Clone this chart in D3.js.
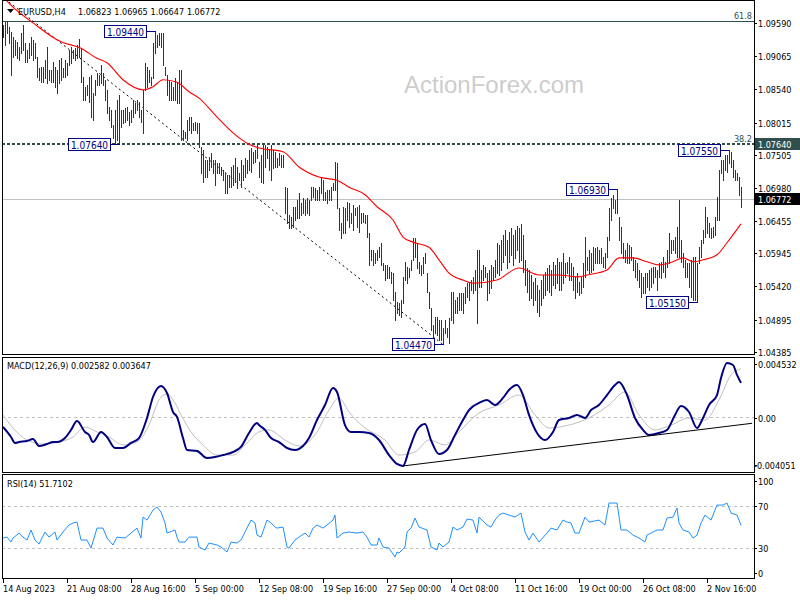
<!DOCTYPE html>
<html><head><meta charset="utf-8">
<script src="https://cdn.jsdelivr.net/npm/d3@7"></script>
<style>
body{margin:0;background:#fff}
svg{display:block}
text{font-family:'DejaVu Sans Condensed','DejaVu Sans',sans-serif;font-size:9px}
</style>
</head><body>
<svg id="c" width="800" height="600"></svg>
<script>
// ---------- DATA ----------
const symbol = "EURUSD,H4";
const ohlcHeader = ["1.06823","1.06965","1.06647","1.06772"];
const hi = [
1.0953,1.0957,1.0959,1.0950,1.0942,1.0934,1.0929,1.0926,1.0918,1.0940,
1.0953,1.0924,1.0913,1.0924,1.0934,1.0929,1.0924,1.0902,1.0885,1.0886,
1.0886,1.0897,1.0918,1.0881,1.0881,1.0894,1.0886,1.0881,1.0897,1.0900,
1.0885,1.0897,1.0893,1.0913,1.0918,1.0913,1.0916,1.0921,1.0931,1.0916,
1.0870,1.0855,1.0858,1.0870,1.0874,1.0845,1.0866,1.0877,1.0874,1.0889,
1.0877,1.0866,1.0850,1.0823,1.0818,1.0794,1.0818,1.0834,1.0842,1.0818,
1.0818,1.0821,1.0823,1.0815,1.0818,1.0834,1.0829,1.0834,1.0831,1.0818,
1.0850,1.0893,1.0886,1.0881,1.0870,1.0924,1.0944,1.0937,1.0940,1.0940,
1.0940,1.0886,1.0874,1.0866,1.0862,1.0855,1.0869,1.0861,1.0881,1.0881,
1.0786,1.0783,1.0802,1.0807,1.0807,1.0798,1.0799,1.0798,1.0798,1.0760,
1.0755,1.0739,1.0739,1.0744,1.0750,1.0739,1.0739,1.0734,1.0734,1.0728,
1.0723,1.0718,1.0715,1.0715,1.0728,1.0731,1.0742,1.0728,1.0718,1.0739,
1.0731,1.0742,1.0739,1.0755,1.0758,1.0752,1.0755,1.0765,1.0736,1.0747,
1.0762,1.0762,1.0760,1.0755,1.0762,1.0755,1.0752,1.0742,1.0750,1.0747,
1.0747,1.0696,1.0695,1.0652,1.0649,1.0665,1.0665,1.0676,1.0687,1.0671,
1.0679,1.0676,1.0679,1.0676,1.0696,1.0696,1.0695,1.0692,1.0696,1.0712,
1.0707,1.0688,1.0692,1.0692,1.0696,1.0703,1.0736,1.0734,1.0663,1.0639,
1.0665,1.0663,1.0673,1.0671,1.0655,1.0668,1.0663,1.0665,1.0668,1.0655,
1.0655,1.0652,1.0652,1.0623,1.0597,1.0597,1.0592,1.0597,1.0601,1.0608,
1.0576,1.0573,1.0573,1.0570,1.0562,1.0560,1.0530,1.0514,1.0513,1.0517,
1.0554,1.0578,1.0570,1.0568,1.0581,1.0616,1.0616,1.0608,1.0578,1.0573,
1.0586,1.0592,1.0560,1.0530,1.0505,1.0478,1.0490,1.0490,1.0486,1.0486,
1.0473,1.0486,1.0473,1.0489,1.0530,1.0530,1.0517,1.0522,1.0528,1.0528,
1.0528,1.0538,1.0544,1.0544,1.0549,1.0554,1.0565,1.0597,1.0597,1.0565,
1.0573,1.0570,1.0560,1.0565,1.0573,1.0570,1.0581,1.0608,1.0604,1.0612,
1.0620,1.0628,1.0612,1.0625,1.0631,1.0620,1.0628,1.0635,1.0631,1.0638,
1.0620,1.0581,1.0568,1.0565,1.0557,1.0546,1.0552,1.0541,1.0533,1.0549,
1.0557,1.0562,1.0568,1.0573,1.0565,1.0578,1.0573,1.0584,1.0578,1.0578,
1.0592,1.0576,1.0578,1.0586,1.0576,1.0570,1.0554,1.0560,1.0546,1.0554,
1.0576,1.0617,1.0586,1.0597,1.0592,1.0601,1.0600,1.0601,1.0597,1.0600,
1.0586,1.0592,1.0617,1.0663,1.0679,1.0684,1.0676,1.0693,1.0649,1.0633,
1.0608,1.0597,1.0608,1.0604,1.0601,1.0586,1.0581,1.0576,1.0565,1.0560,
1.0554,1.0560,1.0560,1.0565,1.0568,1.0570,1.0570,1.0565,1.0576,1.0578,
1.0586,1.0578,1.0597,1.0623,1.0612,1.0612,1.0617,1.0633,1.0676,1.0612,
1.0592,1.0581,1.0576,1.0576,1.0581,1.0586,1.0586,1.0576,1.0601,1.0612,
1.0628,1.0665,1.0649,1.0639,1.0631,1.0633,1.0649,1.0681,1.0723,1.0739,
1.0739,1.0747,1.0747,1.0755,1.0752,1.0739,1.0723,1.0718,1.0712,1.06965
];
const lo = [
1.0934,1.0921,1.0940,1.0924,1.0874,1.0902,1.0905,1.0900,1.0897,1.0908,
1.0913,1.0894,1.0894,1.0900,1.0905,1.0897,1.0900,1.0870,1.0866,1.0862,
1.0862,1.0869,1.0861,1.0866,1.0862,1.0862,1.0855,1.0845,1.0861,1.0866,
1.0870,1.0870,1.0874,1.0889,1.0893,1.0900,1.0897,1.0900,1.0902,1.0862,
1.0834,1.0834,1.0842,1.0831,1.0807,1.0802,1.0842,1.0858,1.0858,1.0861,
1.0858,1.0834,1.0813,1.0802,1.0791,1.0774,1.0765,1.0770,1.0764,1.0791,
1.0798,1.0799,1.0802,1.0794,1.0799,1.0807,1.0813,1.0818,1.0807,1.0799,
1.0782,1.0850,1.0855,1.0862,1.0858,1.0869,1.0908,1.0918,1.0921,1.0918,
1.0889,1.0874,1.0842,1.0834,1.0834,1.0834,1.0834,1.0829,1.0829,1.0770,
1.0770,1.0774,1.0770,1.0786,1.0782,1.0786,1.0786,1.0782,1.0760,1.0718,
1.0704,1.0712,1.0712,1.0723,1.0728,1.0718,1.0699,1.0718,1.0718,1.0715,
1.0707,1.0687,1.0687,1.0696,1.0696,1.0699,1.0704,1.0695,1.0707,1.0696,
1.0707,1.0712,1.0718,1.0723,1.0720,1.0734,1.0736,1.0742,1.0712,1.0704,
1.0703,1.0728,1.0742,1.0723,1.0707,1.0726,1.0728,1.0728,1.0731,1.0728,
1.0728,1.0655,1.0639,1.0631,1.0631,1.0633,1.0644,1.0647,1.0647,1.0652,
1.0655,1.0652,1.0655,1.0652,1.0676,1.0681,1.0676,1.0676,1.0676,1.0687,
1.0676,1.0676,1.0671,1.0676,1.0676,1.0692,1.0692,1.0663,1.0628,1.0616,
1.0623,1.0623,1.0644,1.0633,1.0639,1.0628,1.0652,1.0633,1.0625,1.0639,
1.0641,1.0639,1.0617,1.0573,1.0581,1.0573,1.0576,1.0581,1.0586,1.0573,
1.0565,1.0549,1.0552,1.0552,1.0544,1.0517,1.0486,1.0497,1.0494,1.0490,
1.0513,1.0549,1.0544,1.0554,1.0565,1.0581,1.0586,1.0568,1.0560,1.0557,
1.0560,1.0576,1.0530,1.0505,1.0470,1.0459,1.0465,1.0462,1.0454,1.0454,
1.0447,1.0465,1.0459,1.0450,1.0486,1.0481,1.0497,1.0497,1.0501,1.0501,
1.0497,1.0513,1.0522,1.0517,1.0533,1.0528,1.0533,1.0481,1.0538,1.0538,
1.0549,1.0554,1.0517,1.0528,1.0536,1.0549,1.0554,1.0560,1.0557,1.0565,
1.0578,1.0589,1.0568,1.0578,1.0589,1.0573,1.0584,1.0597,1.0578,1.0581,
1.0562,1.0541,1.0530,1.0517,1.0521,1.0509,1.0517,1.0498,1.0492,1.0509,
1.0521,1.0525,1.0533,1.0530,1.0525,1.0541,1.0536,1.0544,1.0533,1.0533,
1.0544,1.0554,1.0560,1.0549,1.0549,1.0533,1.0521,1.0530,1.0525,1.0528,
1.0538,1.0554,1.0565,1.0560,1.0562,1.0565,1.0576,1.0576,1.0576,1.0576,
1.0570,1.0568,1.0586,1.0612,1.0644,1.0663,1.0655,1.0655,1.0612,1.0592,
1.0584,1.0578,1.0576,1.0576,1.0581,1.0565,1.0554,1.0549,1.0538,1.0522,
1.0528,1.0528,1.0538,1.0533,1.0538,1.0544,1.0554,1.0533,1.0554,1.0552,
1.0562,1.0554,1.0570,1.0576,1.0592,1.0597,1.0592,1.0586,1.0586,1.0578,
1.0570,1.0554,1.0554,1.0538,1.0522,1.0517,1.0517,1.0515,1.0576,1.0586,
1.0608,1.0617,1.0623,1.0617,1.0616,1.0617,1.0620,1.0644,1.0644,1.0718,
1.0707,1.0723,1.0720,1.0734,1.0728,1.0712,1.0707,1.0707,1.0684,1.06647
];
// moving average (red), sampled along the line
const maIdx = [0,5,15,29,39,47,52,60,70,75,80,87,93,98,107,115,123,128,140,148,158,167,173,181,187,195,200,205,213,218,223,230,235,247,258,268,278,288,292,302,308,315,322,328,335,340,345,350,357,362,369];
const maVal = [1.0997,1.0981,1.0956,1.0926,1.0916,1.0900,1.0893,1.0866,1.0850,1.0855,1.0866,1.0862,1.0847,1.0837,1.0807,1.0782,1.0764,1.0758,1.0752,1.0728,1.0712,1.0707,1.0696,1.0684,1.0665,1.0644,1.0617,1.0609,1.0601,1.0581,1.0560,1.0549,1.0544,1.0549,1.0568,1.0557,1.0557,1.0554,1.0557,1.0565,1.0584,1.0584,1.0578,1.0573,1.0578,1.0584,1.0578,1.0581,1.0589,1.0608,1.0638];
// MACD main line & signal
const macdIdx = [0,4,6,8,12,15,18,22,25,27,31,34,37,41,43,45,49,52,56,60,64,68,72,75,79,82,85,87,90,92,97,102,106,110,115,119,123,127,128,131,134,138,142,146,150,153,157,161,165,167,171,174,178,183,188,193,197,200,203,207,211,214,218,222,226,230,233,238,242,246,250,253,257,260,263,267,271,275,278,283,287,291,294,298,302,306,308,312,316,320,323,328,332,336,339,343,347,350,353,357,359,362,365,367,369];
const macdVal = [-0.00074,-0.00149,-0.00194,-0.00187,-0.00179,-0.00164,-0.00217,-0.00202,-0.00187,-0.00187,-0.00157,-0.00096,-0.00029,-0.00111,-0.00134,-0.00187,-0.00111,-0.00149,-0.00232,-0.00232,-0.00194,-0.00157,-0.00006,0.00152,0.00235,0.00182,0.00039,0.00002,-0.00157,-0.00247,-0.00254,-0.00307,-0.00300,-0.00285,-0.00262,-0.00224,-0.00119,-0.00044,-0.00059,-0.00096,-0.00157,-0.00187,-0.00232,-0.00247,-0.00217,-0.00157,-0.00021,0.00092,0.0022,0.0019,-0.00059,-0.00111,-0.00111,-0.00119,-0.00172,-0.00285,-0.00352,-0.00367,-0.00247,-0.00096,-0.00051,-0.00172,-0.00277,-0.00247,-0.00134,-0.00021,0.00054,0.00107,0.0013,0.00092,0.00145,0.00205,0.00242,0.00167,0.00017,-0.00119,-0.00172,-0.00111,-0.00021,-0.00006,0.00017,-0.00006,0.00054,0.00092,0.00167,0.00242,0.00265,0.00167,-0.00006,-0.00096,-0.00134,-0.00119,-0.00096,0.00017,0.00084,0.00039,-0.00081,-0.00006,0.00092,0.00167,0.00295,0.00408,0.00393,0.00318,0.002582];
const sigIdx = [0,5,12,20,28,35,41,47,53,60,67,73,78,82,86,89,94,100,107,115,122,128,133,141,148,156,163,168,173,181,191,198,206,213,221,228,238,248,258,266,273,283,293,303,311,318,326,334,343,351,358,364,369];
const sigVal = [0.00017,-0.00081,-0.00172,-0.00202,-0.00187,-0.00149,-0.00074,-0.00111,-0.00149,-0.00209,-0.00187,-0.00059,0.0013,0.00175,0.00107,0.00017,-0.00111,-0.00209,-0.00285,-0.00285,-0.00194,-0.00111,-0.00096,-0.00172,-0.00217,-0.00134,0.00054,0.00145,0.00039,-0.00081,-0.00172,-0.00285,-0.00262,-0.00172,-0.00209,-0.00111,0.00032,0.00092,0.00167,0.00017,-0.00081,-0.00059,-0.00006,0.00092,0.0019,0.00017,-0.00096,-0.00059,-0.00006,-0.00021,0.0013,0.00318,0.003647];
// RSI(14)
const rsiIdx = [0,2,4,5,8,10,12,14,16,18,21,23,26,27,30,33,35,37,39,42,44,47,50,52,55,57,61,64,67,69,70,72,75,77,79,81,82,86,87,88,91,93,97,98,101,103,107,109,112,114,117,119,122,124,126,127,129,132,134,136,137,140,142,143,146,148,151,153,155,157,160,162,165,166,167,170,173,177,180,182,184,187,188,190,193,196,197,198,201,202,204,206,208,212,214,217,218,220,223,225,227,230,232,235,237,238,242,244,246,248,250,253,256,259,261,263,265,268,272,274,277,280,282,284,286,288,291,293,298,301,303,307,309,312,315,318,321,322,325,327,330,332,335,337,338,340,343,345,347,349,351,354,357,360,362,364,367,369];
const rsiVal = [39.7,40.6,35.9,39.7,44.4,40.6,37.8,47.3,37.8,34.0,45.4,40.6,45.4,37.8,45.4,52.0,53.9,54.8,37.8,37.8,30.2,49.1,49.1,39.7,33.1,40.6,39.7,44.4,49.1,39.7,59.5,56.7,66.2,69.0,64.3,53.9,44.4,47.3,40.6,35.9,35.9,40.6,40.6,31.2,28.4,35.0,33.1,31.2,26.5,35.9,35.0,37.8,49.1,56.7,53.9,42.5,40.6,56.7,53.9,50.1,49.1,50.1,31.2,30.2,37.8,40.6,44.4,40.6,49.1,52.0,49.1,52.0,56.7,61.4,39.7,44.4,45.4,44.4,45.4,40.6,33.1,33.1,39.7,31.2,30.2,21.7,26.5,25.5,31.2,45.4,49.1,58.6,50.1,47.3,31.2,28.4,35.0,31.2,35.9,50.1,47.3,50.1,57.7,56.7,44.4,59.5,52.0,50.1,56.7,61.4,63.3,61.4,59.5,63.3,45.4,37.8,44.4,35.9,44.4,49.1,47.3,56.7,54.8,53.9,44.4,44.4,59.5,54.8,56.7,52.0,72.8,72.8,47.3,47.3,42.5,39.7,35.9,42.5,45.4,47.3,47.3,58.6,59.5,68.1,53.9,47.3,45.4,39.7,42.5,53.9,61.4,56.7,70.9,70.9,72.8,63.3,61.4,51.7102];
// axes
const priceTicks = [1.09590,1.09065,1.08540,1.08015,1.07505,1.06980,1.06455,1.05945,1.05420,1.04895,1.04385];
const timeIdx = [0,32,64,96,128,160,192,224,256,288,320,352];
const timeLabels = ["14 Aug 2023","21 Aug 08:00","28 Aug 16:00","5 Sep 00:00","12 Sep 08:00","19 Sep 16:00","27 Sep 00:00","4 Oct 08:00","11 Oct 16:00","19 Oct 00:00","26 Oct 08:00","2 Nov 16:00"];
const macdTicks = [0.004532,0.00,-0.004051];
const macdTickLabels = ["0.004532","0.00","-0.004051"];
const rsiTicks = [100,70,30,0];
// annotations
const callIdx = [76,58,220,307,347,363];
const callPrice = [1.09440,1.07640,1.04470,1.06930,1.05150,1.07550];
const fibPrice = [1.0959,1.0764];
const fibLabel = ["61.8","38.2"];
const lastPrice = 1.06772;
const trendIdx = [3,220], trendPrice = [1.0989,1.0447];
const macdTrendIdx = [200,374.5], macdTrendVal = [-0.00367,-0.00046];
const rsiLevels = [70,30];

// ---------- CHART ----------
const svg = d3.select('#c');
const L = 2, R = 754;
const x = d3.scaleLinear().domain([0,369]).range([3,741]);
const yP = d3.scaleLinear().domain([1.04319,1.09907]).range([354,1]);
const yM = d3.scaleLinear().domain([-0.004051,0.004532]).range([471,357]);
const yR = d3.scaleLinear().domain([0,100]).range([580,474.3]);
const px = v => Math.round(v)+0.5;

const defs = svg.append('defs');
[['cm',1,354],['cmacd',358,472],['crsi',475,578]].forEach(([id,t,b])=>{
  defs.append('clipPath').attr('id',id).append('rect').attr('x',L+1).attr('y',t).attr('width',R-L-1).attr('height',b-t);
});

svg.append('rect').attr('width',800).attr('height',600).attr('fill','#fff');

// ----- main panel
const gm = svg.append('g').attr('clip-path','url(#cm)');
gm.append('text').attr('x',494).attr('y',93).attr('text-anchor','middle')
  .style('font-family','"Liberation Sans",Arial,sans-serif').style('font-size','24px')
  .attr('fill','#cdcdcd').text('ActionForex.com');

// last price line
gm.append('line').attr('x1',L).attr('x2',R).attr('y1',px(yP(lastPrice))).attr('y2',px(yP(lastPrice)))
  .attr('stroke','#c0c0c0').attr('stroke-width',1);
// fib lines
gm.append('line').attr('x1',L).attr('x2',R).attr('y1',px(yP(fibPrice[0]))).attr('y2',px(yP(fibPrice[0])))
  .attr('stroke','#2f4f4f').attr('stroke-width',1);
gm.append('line').attr('x1',L).attr('x2',R).attr('y1',Math.round(yP(fibPrice[1]))).attr('y2',Math.round(yP(fibPrice[1])))
  .attr('stroke','#2f4f4f').attr('stroke-width',2).attr('stroke-dasharray','3,2');
fibLabel.forEach((t,k)=>{
  gm.append('text').attr('x',752).attr('y',Math.round(yP(fibPrice[k]))-2).attr('text-anchor','end')
    .attr('fill','#2f4f4f').text(t);
});

// trend line (dashed)
gm.append('line').attr('x1',x(trendIdx[0])).attr('y1',yP(trendPrice[0]))
  .attr('x2',x(trendIdx[1])).attr('y2',yP(trendPrice[1]))
  .attr('stroke','#000').attr('stroke-width',1).attr('stroke-dasharray','2,3');

// bars
gm.append('g').selectAll('line').data(hi).join('line')
  .attr('x1',(d,i)=>px(x(i))).attr('x2',(d,i)=>px(x(i)))
  .attr('y1',d=>Math.round(yP(d))).attr('y2',(d,i)=>Math.round(yP(lo[i]))+1)
  .attr('stroke','#17395a').attr('stroke-width',1).attr('shape-rendering','crispEdges');

// moving average
const maData = maIdx.map((i,k)=>({i,v:maVal[k]}));
gm.append('path').datum(maData)
  .attr('d',d3.line().x(d=>x(d.i)).y(d=>yP(d.v)).curve(d3.curveMonotoneX))
  .attr('fill','none').attr('stroke','#ff0000').attr('stroke-width',1.1);

// callouts
callIdx.forEach((ci,k)=>{
  const bx = px(x(ci));
  const cy = px(yP(callPrice[k]));
  const w = 42, h = 12;
  const rx = Math.round(bx - 10) + 0.5;
  gm.append('line').attr('x1',rx).attr('x2',bx).attr('y1',cy).attr('y2',cy).attr('stroke','#000080');
  gm.append('rect').attr('x',rx-w).attr('y',cy-6).attr('width',w).attr('height',h)
    .attr('fill','#fff').attr('stroke','#000080');
  gm.append('text').attr('x',rx-w/2).attr('y',cy+4).attr('text-anchor','middle')
    .style('font-size','10px').attr('fill','#000080').text(callPrice[k].toFixed(5));
});

// header
svg.append('path').attr('d','M7,9 L14,9 L10.5,13 Z').attr('fill','#000');
svg.append('text').attr('x',18).attr('y',15).attr('fill','#000').text(symbol);
ohlcHeader.forEach((t,k)=>svg.append('text').attr('x',78+k*36.3).attr('y',15).attr('fill','#000').text(t));

// price axis labels
priceTicks.forEach(v=>{
  const yy = Math.round(yP(v))+2;
  svg.append('line').attr('x1',R).attr('x2',R+3).attr('y1',yy+0.5).attr('y2',yy+0.5).attr('stroke','#000');
  svg.append('text').attr('x',758).attr('y',yy+4).attr('fill','#000').text(v.toFixed(5));
});
// highlighted price labels
[[fibPrice[1],'#2f4f4f'],[lastPrice,'#000']].forEach(([v,c])=>{
  const yy = Math.round(yP(v));
  svg.append('rect').attr('x',755).attr('y',yy-6).attr('width',45).attr('height',12).attr('fill',c);
  svg.append('text').attr('x',758).attr('y',yy+4).attr('fill','#fff').text(v.toFixed(5));
});

// ----- MACD panel
const gmacd = svg.append('g').attr('clip-path','url(#cmacd)');
gmacd.append('line').attr('x1',L).attr('x2',R).attr('y1',px(yM(0))).attr('y2',px(yM(0)))
  .attr('stroke','#c0c0c0').attr('stroke-dasharray','3,3');
const sigData = sigIdx.map((i,k)=>({i,v:sigVal[k]}));
gmacd.append('path').datum(sigData)
  .attr('d',d3.line().x(d=>x(d.i)).y(d=>yM(d.v)).curve(d3.curveMonotoneX))
  .attr('fill','none').attr('stroke','#c0c0c0').attr('stroke-width',1);
const macdData = macdIdx.map((i,k)=>({i,v:macdVal[k]}));
gmacd.append('path').datum(macdData)
  .attr('d',d3.line().x(d=>x(d.i)).y(d=>yM(d.v)).curve(d3.curveMonotoneX))
  .attr('fill','none').attr('stroke','#000080').attr('stroke-width',2);
gmacd.append('line').attr('x1',x(macdTrendIdx[0])).attr('y1',yM(macdTrendVal[0]))
  .attr('x2',x(macdTrendIdx[1])).attr('y2',yM(macdTrendVal[1])).attr('stroke','#000').attr('stroke-width',1);
svg.append('text').attr('x',7).attr('y',369).attr('fill','#000')
  .text('MACD(12,26,9) ' + macdVal[macdVal.length-1].toFixed(6) + ' ' + sigVal[sigVal.length-1].toFixed(6));
const macdLabelY = [364,418,465];
macdTickLabels.forEach((t,k)=>{
  svg.append('line').attr('x1',R).attr('x2',R+3).attr('y1',macdLabelY[k]+0.5).attr('y2',macdLabelY[k]+0.5).attr('stroke','#000');
  svg.append('text').attr('x',t.startsWith('-')?754:758).attr('y',macdLabelY[k]+4).attr('fill','#000').text(t);
});

// ----- RSI panel
const grsi = svg.append('g').attr('clip-path','url(#crsi)');
rsiLevels.forEach(v=>{
  grsi.append('line').attr('x1',L).attr('x2',R).attr('y1',px(yR(v))).attr('y2',px(yR(v)))
    .attr('stroke','#c0c0c0').attr('stroke-dasharray','3,3');
});
const rsiData = rsiIdx.map((i,k)=>({i,v:rsiVal[k]}));
grsi.append('path').datum(rsiData)
  .attr('d',d3.line().x(d=>x(d.i)).y(d=>yR(d.v)))
  .attr('fill','none').attr('stroke','#1e90ff').attr('stroke-width',1);
svg.append('text').attr('x',7).attr('y',487).attr('fill','#000')
  .text('RSI(14) ' + rsiVal[rsiVal.length-1].toFixed(4));
const rsiLabelY = [481,506,548,573];
rsiTicks.forEach((v,k)=>{
  svg.append('line').attr('x1',R).attr('x2',R+3).attr('y1',rsiLabelY[k]+0.5).attr('y2',rsiLabelY[k]+0.5).attr('stroke','#000');
  svg.append('text').attr('x',758).attr('y',rsiLabelY[k]+4).attr('fill','#000').text(String(v));
});

// ----- frames
const frame = (t,b)=>svg.append('rect').attr('x',L+0.5).attr('y',t+0.5).attr('width',R-L).attr('height',b-t)
  .attr('fill','none').attr('stroke','#000').attr('stroke-width',1);
frame(0,354); frame(357,472); frame(474,578);

// ----- time axis
timeIdx.forEach((ti,k)=>{
  const xx = px(x(ti));
  svg.append('line').attr('x1',xx).attr('x2',xx).attr('y1',579).attr('y2',583).attr('stroke','#000');
  svg.append('text').attr('x',xx-0.5).attr('y',592).attr('fill','#000').text(timeLabels[k]);
});
</script>
</body></html>
